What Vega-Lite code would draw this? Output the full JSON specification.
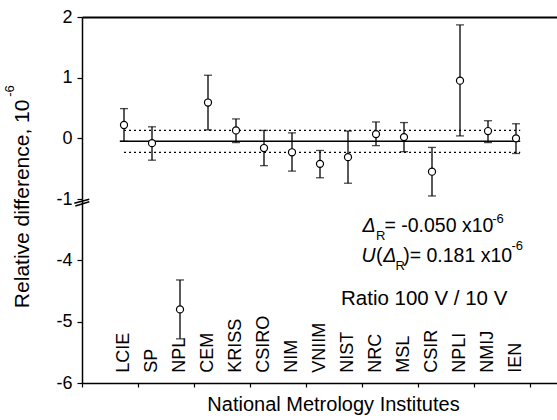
{
  "$schema": "https://vega.github.io/schema/vega-lite/v6.json",
  "padding": {"left": 4, "top": 8, "right": 0, "bottom": 0},
  "spacing": 0,
  "bounds": "flush",
  "background": "white",
  "config": {
    "view": {"stroke": null},
    "font": "Liberation Sans",
    "axis": {"grid": false, "domainColor": "#000", "tickColor": "#000", "labelColor": "#000", "titleColor": "#000", "labelFont": "Liberation Sans", "titleFont": "Liberation Sans", "labelFontSize": 18, "domainWidth": 1.5, "tickWidth": 1.2}
  },
  "data": {"values": [
    {"inst": "LCIE", "n": 1, "value": 0.22, "lo": -0.05, "hi": 0.49},
    {"inst": "SP", "n": 2, "value": -0.08, "lo": -0.36, "hi": 0.19},
    {"inst": "NPL", "n": 3, "value": -4.80, "lo": -5.28, "hi": -4.32},
    {"inst": "CEM", "n": 4, "value": 0.59, "lo": 0.14, "hi": 1.04},
    {"inst": "KRISS", "n": 5, "value": 0.13, "lo": -0.07, "hi": 0.32},
    {"inst": "CSIRO", "n": 6, "value": -0.16, "lo": -0.45, "hi": 0.13},
    {"inst": "NIM", "n": 7, "value": -0.23, "lo": -0.54, "hi": 0.09},
    {"inst": "VNIIM", "n": 8, "value": -0.42, "lo": -0.65, "hi": -0.20},
    {"inst": "NIST", "n": 9, "value": -0.31, "lo": -0.74, "hi": 0.12},
    {"inst": "NRC", "n": 10, "value": 0.07, "lo": -0.12, "hi": 0.27},
    {"inst": "MSL", "n": 11, "value": 0.02, "lo": -0.22, "hi": 0.26},
    {"inst": "CSIR", "n": 12, "value": -0.55, "lo": -0.95, "hi": -0.15},
    {"inst": "NPLI", "n": 13, "value": 0.95, "lo": 0.04, "hi": 1.87},
    {"inst": "NMIJ", "n": 14, "value": 0.12, "lo": -0.07, "hi": 0.29},
    {"inst": "IEN", "n": 15, "value": 0.00, "lo": -0.25, "hi": 0.24}
  ]},
  "vconcat": [
    {
      "width": 476,
      "height": 182,
      "layer": [
        {
          "transform": [{"filter": "datum.value > -2"}],
          "mark": {"type": "rule", "color": "black", "strokeWidth": 1.3},
          "encoding": {
            "x": {"field": "n", "type": "quantitative", "scale": {"domain": [-0.5, 16.5], "nice": false, "zero": false},
              "axis": {"orient": "top", "ticks": false, "labels": false, "title": null, "domainWidth": 2}},
            "y": {"field": "lo", "type": "quantitative", "scale": {"domain": [-1, 2], "nice": false, "zero": false},
              "axis": {"orient": "left", "title": null, "values": [-1, -0.5, 0, 0.5, 1, 1.5, 2],
                "labelExpr": "datum.value % 1 === 0 ? '' + datum.value : ''",
                "tickSize": {"condition": {"test": "datum.value % 1 === 0", "value": 5}, "value": 3},
                "labelPadding": 5}},
            "y2": {"field": "hi"}
          }
        },
        {
          "transform": [{"filter": "datum.value > -2"}],
          "mark": {"type": "tick", "orient": "horizontal", "color": "black", "size": 8, "thickness": 1.3},
          "encoding": {"x": {"field": "n", "type": "quantitative"}, "y": {"field": "lo", "type": "quantitative"}}
        },
        {
          "transform": [{"filter": "datum.value > -2"}],
          "mark": {"type": "tick", "orient": "horizontal", "color": "black", "size": 8, "thickness": 1.3},
          "encoding": {"x": {"field": "n", "type": "quantitative"}, "y": {"field": "hi", "type": "quantitative"}}
        },
        {
          "data": {"values": [{}]},
          "mark": {"type": "rule", "color": "black", "strokeWidth": 1.5},
          "encoding": {"x": {"datum": 0.85}, "x2": {"datum": 15.15}, "y": {"datum": -0.05}}
        },
        {
          "data": {"values": [{}]},
          "mark": {"type": "rule", "color": "black", "strokeWidth": 1.3, "strokeDash": [2, 3]},
          "encoding": {"x": {"datum": 1.0}, "x2": {"datum": 15.15}, "y": {"datum": 0.131}}
        },
        {
          "data": {"values": [{}]},
          "mark": {"type": "rule", "color": "black", "strokeWidth": 1.3, "strokeDash": [2, 3]},
          "encoding": {"x": {"datum": 1.0}, "x2": {"datum": 15.15}, "y": {"datum": -0.231}}
        },
        {
          "transform": [{"filter": "datum.value > -2"}],
          "mark": {"type": "point", "shape": "circle", "filled": false, "fill": "white", "fillOpacity": 1, "stroke": "black", "strokeWidth": 1.2, "size": 50, "opacity": 1},
          "encoding": {"x": {"field": "n", "type": "quantitative"}, "y": {"field": "value", "type": "quantitative"}}
        },
        {
          "data": {"values": [{}]},
          "mark": {"type": "text", "text": "Relative difference, 10", "angle": 270, "align": "center", "baseline": "middle", "fontSize": 21, "color": "black"},
          "encoding": {"x": {"datum": -2.6}, "y": {"datum": -1.08}}
        },
        {
          "data": {"values": [{}]},
          "mark": {"type": "text", "text": "-6", "angle": 270, "align": "center", "baseline": "middle", "fontSize": 13, "color": "black"},
          "encoding": {"x": {"datum": -3.06}, "y": {"datum": 0.78}}
        }
      ]
    },
    {
      "width": 476,
      "height": 184,
      "layer": [
        {
          "transform": [{"filter": "datum.value < -2"}],
          "mark": {"type": "rule", "color": "black", "strokeWidth": 1.3},
          "encoding": {
            "x": {"field": "n", "type": "quantitative", "scale": {"domain": [-0.5, 16.5], "nice": false, "zero": false},
              "axis": {"orient": "bottom", "values": [-0.5, 0.5, 1.5, 2.5, 3.5, 4.5, 5.5, 6.5, 7.5, 8.5, 9.5, 10.5, 11.5, 12.5, 13.5, 14.5, 15.5, 16.5],
                "labels": false, "tickSize": 4, "title": "National Metrology Institutes", "titleFontSize": 20, "titleFontWeight": "normal", "titlePadding": 7, "titleX": 251}},
            "y": {"field": "lo", "type": "quantitative", "scale": {"domain": [-6, -3], "nice": false, "zero": false},
              "axis": {"orient": "left", "title": null, "values": [-6, -5.5, -5, -4.5, -4, -3.5],
                "labelExpr": "datum.value % 1 === 0 ? '' + datum.value : ''",
                "tickSize": {"condition": {"test": "datum.value % 1 === 0", "value": 5}, "value": 3},
                "labelPadding": 5}},
            "y2": {"field": "hi"}
          }
        },
        {
          "transform": [{"filter": "datum.value < -2"}],
          "mark": {"type": "tick", "orient": "horizontal", "color": "black", "size": 8, "thickness": 1.3},
          "encoding": {"x": {"field": "n", "type": "quantitative"}, "y": {"field": "lo", "type": "quantitative"}}
        },
        {
          "transform": [{"filter": "datum.value < -2"}],
          "mark": {"type": "tick", "orient": "horizontal", "color": "black", "size": 8, "thickness": 1.3},
          "encoding": {"x": {"field": "n", "type": "quantitative"}, "y": {"field": "hi", "type": "quantitative"}}
        },
        {
          "transform": [{"filter": "datum.value < -2"}],
          "mark": {"type": "point", "shape": "circle", "filled": false, "fill": "white", "fillOpacity": 1, "stroke": "black", "strokeWidth": 1.2, "size": 50, "opacity": 1},
          "encoding": {"x": {"field": "n", "type": "quantitative"}, "y": {"field": "value", "type": "quantitative"}}
        },
        {
          "mark": {"type": "text", "angle": 270, "align": "left", "baseline": "middle", "fontSize": 18, "color": "black"},
          "encoding": {"x": {"field": "n", "type": "quantitative"}, "y": {"datum": -5.832}, "text": {"field": "inst"}}
        },
        {
          "data": {"values": [{}]},
          "mark": {"type": "text", "text": "Δ", "fontStyle": "italic", "align": "left", "baseline": "alphabetic", "fontSize": 19.5, "color": "black"},
          "encoding": {"x": {"datum": 9.52}, "y": {"datum": -3.543}}
        },
        {
          "data": {"values": [{}]},
          "mark": {"type": "text", "text": "R", "align": "left", "baseline": "alphabetic", "fontSize": 13, "color": "black"},
          "encoding": {"x": {"datum": 10.0}, "y": {"datum": -3.668}}
        },
        {
          "data": {"values": [{}]},
          "mark": {"type": "text", "text": "= -0.050 x10", "align": "left", "baseline": "alphabetic", "fontSize": 19.5, "color": "black"},
          "encoding": {"x": {"datum": 10.3}, "y": {"datum": -3.543}}
        },
        {
          "data": {"values": [{}]},
          "mark": {"type": "text", "text": "-6", "align": "left", "baseline": "alphabetic", "fontSize": 13, "color": "black"},
          "encoding": {"x": {"datum": 14.15}, "y": {"datum": -3.391}}
        },
        {
          "data": {"values": [{}]},
          "mark": {"type": "text", "text": "U", "fontStyle": "italic", "align": "left", "baseline": "alphabetic", "fontSize": 19.5, "color": "black"},
          "encoding": {"x": {"datum": 9.48}, "y": {"datum": -4.022}}
        },
        {
          "data": {"values": [{}]},
          "mark": {"type": "text", "text": "(", "align": "left", "baseline": "alphabetic", "fontSize": 19.5, "color": "black"},
          "encoding": {"x": {"datum": 10.0}, "y": {"datum": -4.022}}
        },
        {
          "data": {"values": [{}]},
          "mark": {"type": "text", "text": "Δ", "fontStyle": "italic", "align": "left", "baseline": "alphabetic", "fontSize": 19.5, "color": "black"},
          "encoding": {"x": {"datum": 10.26}, "y": {"datum": -4.022}}
        },
        {
          "data": {"values": [{}]},
          "mark": {"type": "text", "text": "R", "align": "left", "baseline": "alphabetic", "fontSize": 13, "color": "black"},
          "encoding": {"x": {"datum": 10.7}, "y": {"datum": -4.158}}
        },
        {
          "data": {"values": [{}]},
          "mark": {"type": "text", "text": ")= 0.181 x10", "align": "left", "baseline": "alphabetic", "fontSize": 19.5, "color": "black"},
          "encoding": {"x": {"datum": 10.97}, "y": {"datum": -4.022}}
        },
        {
          "data": {"values": [{}]},
          "mark": {"type": "text", "text": "-6", "align": "left", "baseline": "alphabetic", "fontSize": 13, "color": "black"},
          "encoding": {"x": {"datum": 14.84}, "y": {"datum": -3.83}}
        },
        {
          "data": {"values": [{}]},
          "mark": {"type": "text", "text": "Ratio 100 V / 10 V", "align": "left", "baseline": "alphabetic", "fontSize": 20.5, "color": "black"},
          "encoding": {"x": {"datum": 8.75}, "y": {"datum": -4.728}}
        },
        {
          "data": {"values": [{}]},
          "mark": {"type": "rule", "color": "black", "strokeWidth": 1.5},
          "encoding": {"x": {"datum": -0.775}, "x2": {"datum": -0.24}, "y": {"datum": -3.07}, "y2": {"datum": -3.005}}
        },
        {
          "data": {"values": [{}]},
          "mark": {"type": "rule", "color": "black", "strokeWidth": 1.5},
          "encoding": {"x": {"datum": -0.74}, "x2": {"datum": -0.24}, "y": {"datum": -3.114}, "y2": {"datum": -3.044}}
        }
      ]
    }
  ]
}
